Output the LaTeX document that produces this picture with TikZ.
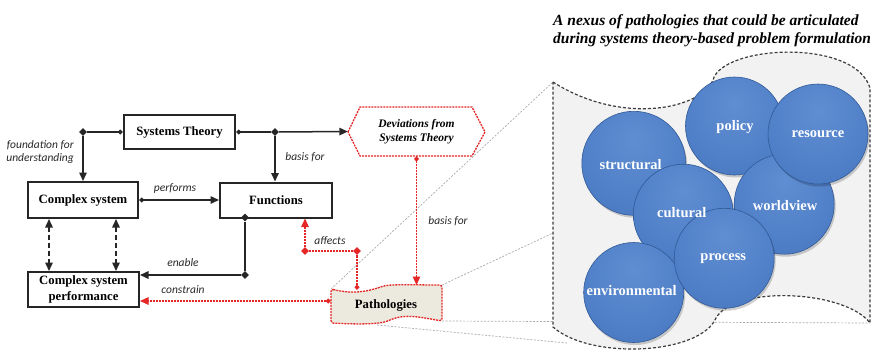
\documentclass[tikz,border=0pt]{standalone}
\usepackage{fontspec}
\setmainfont{Liberation Serif}
\newfontfamily\lblfont{Carlito}
\usetikzlibrary{arrows.meta,shapes.geometric,calc}

\definecolor{redline}{RGB}{228,38,38}
\definecolor{patfill}{RGB}{236,233,222}
\definecolor{nexusfill}{RGB}{242,242,242}
\definecolor{nexusline}{RGB}{60,60,60}
\definecolor{projline}{RGB}{170,170,170}
\definecolor{lbltext}{RGB}{40,40,40}
\definecolor{sphA}{RGB}{96,142,210}
\definecolor{sphB}{RGB}{80,128,200}
\definecolor{sphC}{RGB}{66,112,186}
\definecolor{sphD}{RGB}{44,86,152}
\definecolor{sphRim}{RGB}{50,90,150}

\pgfdeclareradialshading{bluesphere}{\pgfpoint{0bp}{12bp}}{%
  color(0bp)=(sphA); color(25bp)=(sphB); color(48bp)=(sphC);
  color(60bp)=(sphD); color(80bp)=(sphD)}

\tikzset{
  tri/.tip={Triangle[length=8.5pt,width=7.5pt]},
  dia/.tip={Diamond[length=5.5pt,width=5pt]},
  box/.style={draw=black!85, line width=2pt, inner sep=0pt, align=center,
    font=\bfseries\fontsize{12.7}{16}\selectfont},
  conn/.style={line width=1.5pt, black!85},
  redconn/.style={line width=1.3pt, redline, dash pattern=on 2pt off 1pt},
  jdot/.style={diamond, fill=black!85, inner sep=0pt, minimum size=8pt},
  rdot/.style={jdot, fill=redline},
  lbl/.style={font=\lblfont\itshape\fontsize{11.5}{13}\selectfont, text=lbltext, inner sep=0pt},
  projection/.style={projline, line width=0.7pt, dash pattern=on 2pt off 1.5pt},
  sphere/.style={circle, minimum size=98pt, inner sep=0pt, shading=bluesphere,
    draw=sphRim, line width=0.6pt},
  sphshadow/.style={circle, minimum size=98pt, inner sep=0pt, fill=black, opacity=0.18},
  spheretext/.style={text=white, font=\bfseries\fontsize{14.5}{16}\selectfont, inner sep=0pt}
}

\begin{document}
\begin{tikzpicture}[x=1pt,y=-1pt]
\useasboundingbox (0,0) rectangle (877,357);

% ---- main boxes ----
\node[box, minimum width=111pt, minimum height=34pt] (st)  at (179.5,132) {Systems Theory};
\node[box, minimum width=110pt, minimum height=36pt] (cs)  at (83,200)    {Complex system};
\node[box, minimum width=112pt, minimum height=35pt] (fn)  at (276,200)   {Functions};
\node[box, minimum width=111pt, minimum height=35pt] (csp) at (83.5,289.5) {Complex system\\performance};

% ---- deviations hexagon ----
\draw[redconn, fill=white] (348,132) -- (360,107) -- (472,107) -- (485,132)
  -- (472,156) -- (360,156) -- cycle;
\node[minimum width=137pt, minimum height=49pt, inner sep=0pt, align=center,
  font=\bfseries\itshape\fontsize{11.5}{14.3}\selectfont] (dev) at (416.5,131.5)
  {Deviations from\\Systems Theory};

% ---- projection lines from Pathologies to the nexus ----
\coordinate (pTL) at (331,289);
\coordinate (pTR) at (442,285);
\coordinate (pBR) at (442,321);
\coordinate (pB)  at (377,325);
\coordinate (nTL) at (553,82);
\coordinate (nL)  at (553,233);
\coordinate (nBR) at (870,323);
\coordinate (nB)  at (567,343);
\draw[projection] (pTL) -- (nTL);
\draw[projection] (pTR) -- (nL);
\draw[projection] (pBR) -- (nBR);
\draw[projection] (pB)  -- (nB);

% ---- pathologies banner ----
\draw[redconn, fill=patfill, rounded corners=2.5pt]
  (331,289) .. controls (352,294) and (366,292) .. (382,286.5)
  .. controls (392,284) and (420,285) .. (442,285)
  -- (442,321)
  .. controls (420,317) and (405,314) .. (390,320)
  .. controls (378,325) and (350,324) .. (331,323) -- cycle;
\node[inner sep=0pt, minimum width=111pt, minimum height=36pt,
  font=\bfseries\fontsize{12.7}{16}\selectfont] (pat) at (386,305) {Pathologies};

% ---- black connectors ----
\node[jdot] (j1) at (83,132) {};
\node[jdot] (j2) at (275,132) {};
\node[jdot] (j3) at (245,217.5) {};
\node[jdot] (j4) at (245,275) {};

\draw[conn, {dia}-] (st.west) -- (j1);
\draw[conn, -{tri}] (j1) -- (j1 |- cs.north);
\draw[conn, {dia}-] (st.east) -- (j2);
\draw[conn, -{tri}] (j2) -- (dev.west);
\draw[conn, -{tri}] (j2) -- (j2 |- fn.north);
\draw[conn, {dia}-{tri}] (cs.east) -- (fn.west);
\draw[conn] (j3) -- (j4);
\draw[conn, -{tri}] (j4) -- (j4 -| csp.east);
\draw[conn, dash pattern=on 4.5pt off 3.5pt, {tri}-{tri}]
  ($(cs.south west)+(22,0)$) -- ($(csp.north west)+(22,0)$);
\draw[conn, dash pattern=on 4.5pt off 3.5pt, {tri}-{tri}]
  ($(cs.south west)+(89,0)$) -- ($(csp.north west)+(89,0)$);

% ---- red connectors ----
\coordinate (pt1) at (416.5,285);
\coordinate (pt2) at (357,290);
\coordinate (pt3) at (331,301);
\node[rdot] (j5) at (305,251) {};
\node[rdot] (j6) at (357,251) {};
\draw[redconn, {dia}-{tri}] (dev.south) -- (pt1);
\draw[redconn, {dia}-] (pt2) -- (j6);
\draw[redconn] (j6) -- (j5);
\draw[redconn, -{tri}] (j5) -- (j5 |- fn.south);
\draw[redconn, {dia}-{tri}] (pt3) -- (pt3 -| csp.east);

% ---- connector labels ----
\node[lbl, anchor=east, align=right] (l1) at (74,152) {foundation for\\understanding};
\node[lbl] (l2) at (305,157) {basis for};
\node[lbl] (l3) at (175,188.5) {performs};
\node[lbl] (l4) at (183,263) {enable};
\node[lbl] (l5) at (183,290) {constrain};
\node[lbl] (l6) at (330,240.5) {affects};
\node[lbl] (l7) at (448,221) {basis for};

% ---- nexus of pathologies ----
\node[anchor=west, align=left, inner sep=0pt,
  font=\bfseries\itshape\fontsize{15.5}{17.6}\selectfont] (title) at (553,30.5)
  {A nexus of pathologies that could be articulated\\during systems theory-based problem formulation};

\draw[nexusline, fill=nexusfill, line width=1.2pt, dash pattern=on 3pt off 2pt]
  (553,82) .. controls (620,125) and (700,110) .. (713,80)
  .. controls (722,45) and (855,38) .. (870,88)
  -- (870,323)
  .. controls (845,290) and (735,285) .. (716,318)
  .. controls (700,355) and (590,360) .. (553,327) -- cycle;

% spheres, back to front, each with a soft shadow
\foreach \n/\x/\y/\d in {s1/633.8/163.3/104, s2/734.5/126/98, s3/784.2/204.2/100,
    s4/818/134/100, s5/683.3/214.2/100, s6/633.7/292.5/100, s7/724.2/258.3/100}{
  \node[sphshadow, minimum size=\d pt] at (\x+1.5,\y+2.5) {};
  \node[sphere, minimum size=\d pt] (\n) at (\x,\y) {};
}

\node[spheretext] at (630.7,165) {structural};
\node[spheretext] at (735,126.7) {policy};
\node[spheretext] at (785,205.7) {worldview};
\node[spheretext] at (818,134) {resource};
\node[spheretext] at (681.7,212.7) {cultural};
\node[spheretext] at (631.7,291) {environmental};
\node[spheretext] at (723.3,258.3) {process};
\end{tikzpicture}
\end{document}
